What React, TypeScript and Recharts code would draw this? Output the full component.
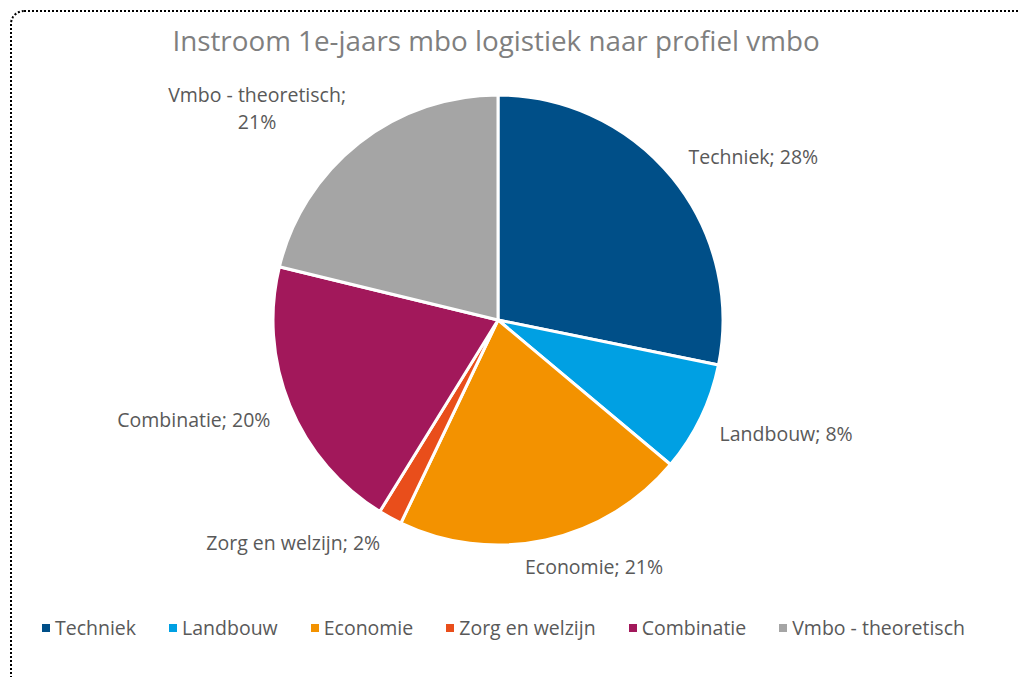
import React from 'react';
import { PieChart, Pie, Cell, Legend } from 'recharts';

const categories = ['Techniek', 'Landbouw', 'Economie', 'Zorg en welzijn', 'Combinatie', 'Vmbo - theoretisch'];
const shares = [28.2, 7.9, 21.0, 1.7, 20.0, 21.2];
const colors = ['#004F88', '#00A0E3', '#F39200', '#E94E1B', '#A2185B', '#A5A5A5'];
const title = 'Instroom 1e-jaars mbo logistiek naar profiel vmbo';

const data = categories.map((name, i) => ({ name, value: shares[i] }));

const FONT = '"Open Sans", sans-serif';
const FS = 19.5;
const LH = 26.5;
const CAP = FS * 0.714;
const TEXT = '#595959';

let ctx: CanvasRenderingContext2D | null = null;
const measure = (s: string) => {
  if (!ctx) {
    ctx = document.createElement('canvas').getContext('2d');
  }
  if (!ctx) return s.length * FS * 0.5;
  ctx.font = `${FS}px "Open Sans"`;
  return ctx.measureText(s).width;
};
const clamp = (v: number) => Math.max(-1, Math.min(1, v));

const renderLabel = (props: any) => {
  const { cx, cy, midAngle, outerRadius, percent, name } = props;
  const rad = Math.PI / 180;
  const dx = Math.cos(-midAngle * rad);
  const dy = Math.sin(-midAngle * rad);
  const r = outerRadius + 21;
  const ax = cx + r * dx;
  const ay = cy + r * dy;
  const pct = `${Math.round(percent * 100)}%`;
  const full = `${name}; ${pct}`;
  let lines = [full];
  if (measure(full) > 200) lines = [`${name};`, pct];
  const w = Math.max(...lines.map(measure));
  const h = CAP + (lines.length - 1) * LH;
  const fx = clamp(dx * 3);
  const fy = clamp(dy * 3);
  const bx = ax + (fx * w) / 2;
  const top = ay + (fy * h) / 2 - h / 2 + (lines.length - 1) * 2;
  return (
    <g>
      {lines.map((l, i) => (
        <text key={i} x={bx} y={top + CAP + LH * i} textAnchor="middle" fill={TEXT} fontSize={FS} fontFamily={FONT}>
          {l}
        </text>
      ))}
    </g>
  );
};

const renderLegend = () => (
  <div style={{ display: 'flex', alignItems: 'center', paddingLeft: 42, fontFamily: FONT, fontSize: FS, color: TEXT, whiteSpace: 'nowrap' }}>
    {categories.map((c, i) => (
      <div key={c} style={{ display: 'flex', alignItems: 'center', marginRight: 33 }}>
        <span style={{ display: 'inline-block', width: 8, height: 8, background: colors[i], marginRight: 5 }} />
        <span>{c}</span>
      </div>
    ))}
  </div>
);

export default function App() {
  return (
    <div style={{ position: 'absolute', left: 0, top: 0, width: 1020, height: 677, overflow: 'hidden', background: '#fff' }}>
      <div
        style={{
          position: 'absolute',
          left: 10,
          top: 10,
          width: 1040,
          height: 700,
          border: '2px dotted #000',
          borderTopLeftRadius: 14,
          boxSizing: 'border-box',
        }}
      />
      <div
        style={{
          position: 'absolute',
          left: 0,
          top: 21,
          width: 992,
          textAlign: 'center',
          fontFamily: FONT,
          fontSize: 27.8,
          color: '#7F7F7F',
          whiteSpace: 'nowrap',
        }}
      >
        {title}
      </div>
      <div style={{ position: 'absolute', left: 0, top: 0 }}>
        <PieChart width={1020} height={677} margin={{ top: 0, right: 0, bottom: 0, left: 0 }}>
          <Pie
            data={data}
            dataKey="value"
            nameKey="name"
            cx={498}
            cy={320}
            outerRadius={225}
            startAngle={90}
            endAngle={-270}
            stroke="#fff"
            strokeWidth={3}
            label={renderLabel}
            labelLine={false}
            isAnimationActive={false}
          >
            {data.map((d, i) => (
              <Cell key={d.name} fill={colors[i]} />
            ))}
          </Pie>
          <Legend content={renderLegend} wrapperStyle={{ position: 'absolute', top: 614, left: 0, width: 1020 }} />
        </PieChart>
      </div>
    </div>
  );
}
